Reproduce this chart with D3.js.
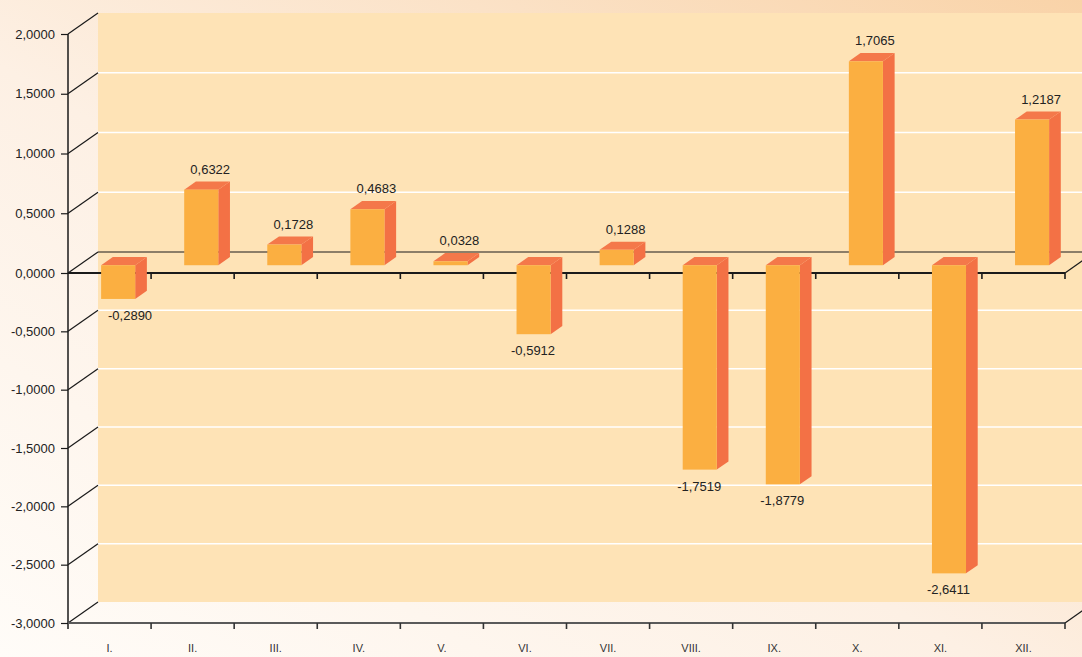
<!DOCTYPE html>
<html>
<head>
<meta charset="utf-8">
<script src="https://cdn.jsdelivr.net/npm/d3@7"></script>
<style>
  html, body { margin: 0; padding: 0; overflow: hidden; }
  svg { display: block; }
  text { font-family: "Liberation Sans", Arial, sans-serif; }
</style>
</head>
<body>
<svg id="chart" width="1082" height="657"></svg>
<script>
// ---- data ----
const categories = ["I.", "II.", "III.", "IV.", "V.", "VI.", "VII.", "VIII.", "IX.", "X.", "XI.", "XII."];
const values = [-0.2890, 0.6322, 0.1728, 0.4683, 0.0328, -0.5912, 0.1288, -1.7519, -1.8779, 1.7065, -2.6411, 1.2187];
const yTicks = [2, 1.5, 1, 0.5, 0, -0.5, -1, -1.5, -2, -2.5, -3];

// ---- setup ----
const W = 1082, H = 657;
const svg = d3.select("#chart");
const locale = d3.formatLocale({decimal: ",", thousands: " ", grouping: [3], currency: ["", ""], minus: "-"});
const fmt = locale.format(".4f");

const x = d3.scaleBand().domain(categories).range([68, 1065]).paddingInner(0).paddingOuter(0);
const y = d3.scaleLinear().domain([-3, 0, 2]).range([623, 273, 34]);

const DX = 30, DY = -21;           // depth projection of the full floor
const P = (px, py, z) => [px + DX * z, py + DY * z];

// ---- background ----
const defs = svg.append("defs");
const bg = defs.append("linearGradient").attr("id", "bg")
  .attr("x1", "0").attr("y1", "1").attr("x2", "1").attr("y2", "0");
bg.append("stop").attr("offset", "0").attr("stop-color", "#FFFCF8");
bg.append("stop").attr("offset", "0.45").attr("stop-color", "#FDF0E4");
bg.append("stop").attr("offset", "1").attr("stop-color", "#F9D3A8");
svg.append("rect").attr("width", W).attr("height", H).attr("fill", "url(#bg)");

// back wall
const wallTop = P(0, y(2), 1)[1], wallBot = P(0, y(-3), 1)[1];
svg.append("rect")
  .attr("x", P(68, 0, 1)[0]).attr("y", wallTop)
  .attr("width", W - P(68, 0, 1)[0] + 20).attr("height", wallBot - wallTop)
  .attr("fill", "#FEE3B6");

// white grid lines on back wall
svg.append("g").selectAll("line")
  .data(yTicks.filter(v => v !== 0 && v !== 2 && v !== -3))
  .join("line")
  .attr("x1", P(68, 0, 1)[0]).attr("x2", W + 5)
  .attr("y1", d => P(0, y(d), 1)[1]).attr("y2", d => P(0, y(d), 1)[1])
  .attr("stroke", "#FFFFFF").attr("stroke-width", 1.5);

// back zero line
svg.append("line")
  .attr("x1", P(68, 0, 1)[0]).attr("x2", P(1065, 0, 1)[0])
  .attr("y1", P(0, y(0), 1)[1]).attr("y2", P(0, y(0), 1)[1])
  .attr("stroke", "#1a1a1a").attr("stroke-width", 1.2);

// left axis diagonals
svg.append("g").selectAll("line")
  .data(yTicks)
  .join("line")
  .attr("x1", 68).attr("y1", d => y(d))
  .attr("x2", d => P(68, y(d), 1)[0]).attr("y2", d => P(68, y(d), 1)[1])
  .attr("stroke", "#1a1a1a").attr("stroke-width", 1.2);

// left axis ticks + labels
const yAxis = d3.axisLeft(y).tickValues(yTicks).tickFormat(fmt).tickSize(7).tickPadding(6);
const gy = svg.append("g").attr("transform", "translate(68,0)").call(yAxis);
gy.select(".domain").remove();
gy.selectAll(".tick line").attr("stroke", "#1a1a1a").attr("stroke-width", 1.2);
gy.selectAll(".tick text").attr("font-size", 13).attr("fill", "#222").attr("font-family", "'Liberation Sans', Arial, sans-serif");
svg.append("line").attr("x1", 68).attr("x2", 68).attr("y1", y(2)).attr("y2", y(-3) + 6)
  .attr("stroke", "#1a1a1a").attr("stroke-width", 1.5);

// front zero line + right diagonal + ticks
const bounds = categories.map(c => x(c) + x.bandwidth());
svg.append("line").attr("x1", 68).attr("x2", 1065).attr("y1", y(0)).attr("y2", y(0))
  .attr("stroke", "#1a1a1a").attr("stroke-width", 1.8);
svg.append("line").attr("x1", 1065).attr("y1", y(0))
  .attr("x2", P(1065, y(0), 1)[0]).attr("y2", P(1065, y(0), 1)[1])
  .attr("stroke", "#1a1a1a").attr("stroke-width", 1.2);
svg.append("g").selectAll("line").data(bounds).join("line")
  .attr("x1", d => d).attr("x2", d => d).attr("y1", y(0)).attr("y2", y(0) + 6)
  .attr("stroke", "#1a1a1a").attr("stroke-width", 1.6);

// bottom axis
const xAxis = d3.axisBottom(x).tickSize(0).tickPadding(21);
const gx = svg.append("g").attr("transform", `translate(0,${y(-3)})`).call(xAxis);
gx.select(".domain").remove();
gx.selectAll(".tick text").attr("font-size", 11).attr("fill", "#333").attr("font-family", "'Liberation Sans', Arial, sans-serif");
svg.append("line").attr("x1", 68).attr("x2", 1065).attr("y1", y(-3)).attr("y2", y(-3))
  .attr("stroke", "#5a5a5a").attr("stroke-width", 2);
svg.append("line").attr("x1", 1065).attr("y1", y(-3))
  .attr("x2", P(1065, y(-3), 1)[0]).attr("y2", P(1065, y(-3), 1)[1])
  .attr("stroke", "#1a1a1a").attr("stroke-width", 1.2);
svg.append("g").selectAll("line").data(bounds).join("line")
  .attr("x1", d => d).attr("x2", d => d).attr("y1", y(-3)).attr("y2", y(-3) + 6)
  .attr("stroke", "#333").attr("stroke-width", 1.6);

// ---- bars ----
const Z0 = 0.37, Z1 = 0.76;
const bw = x.bandwidth();
const barData = categories.map((c, i) => ({c, v: values[i]}));
const bars = svg.append("g").selectAll("g").data(barData).join("g");

bars.each(function(d) {
  const g = d3.select(this);
  const fx0 = x(d.c) + 0.265 * bw, fx1 = fx0 + 0.41 * bw;
  const yTop = y(Math.max(0, d.v)), yBot = y(Math.min(0, d.v));
  const a = P(fx0, yTop, Z0), b = P(fx1, yTop, Z0), c2 = P(fx1, yBot, Z0), dd = P(fx0, yBot, Z0);
  const bb = P(fx1, yTop, Z1), cb = P(fx1, yBot, Z1), ab = P(fx0, yTop, Z1);
  // side
  g.append("polygon").attr("points", [b, bb, cb, c2].map(p => p.join(",")).join(" "))
    .attr("fill", "#F37145");
  // top
  g.append("polygon").attr("points", [a, ab, bb, b].map(p => p.join(",")).join(" "))
    .attr("fill", "#F4784A");
  // front
  g.append("rect").attr("x", a[0]).attr("y", a[1]).attr("width", b[0] - a[0]).attr("height", Math.max(0.8, dd[1] - a[1]))
    .attr("fill", "#FBAF41");
  // label
  const t = g.append("text").attr("font-size", 13).attr("fill", "#222")
    .attr("text-anchor", "middle").text(fmt(d.v));
  let cx, by;
  if (d.v >= 0) { cx = a[0] + 26; by = a[1] - 16; }
  else { cx = a[0] + 16.5; by = dd[1] + 21; }
  const w = t.node().getComputedTextLength();
  const minLeft = P(68, 0, 1)[0] + 10;
  if (cx - w / 2 < minLeft) cx = minLeft + w / 2;
  t.attr("x", cx).attr("y", by);
});
</script>
</body>
</html>
